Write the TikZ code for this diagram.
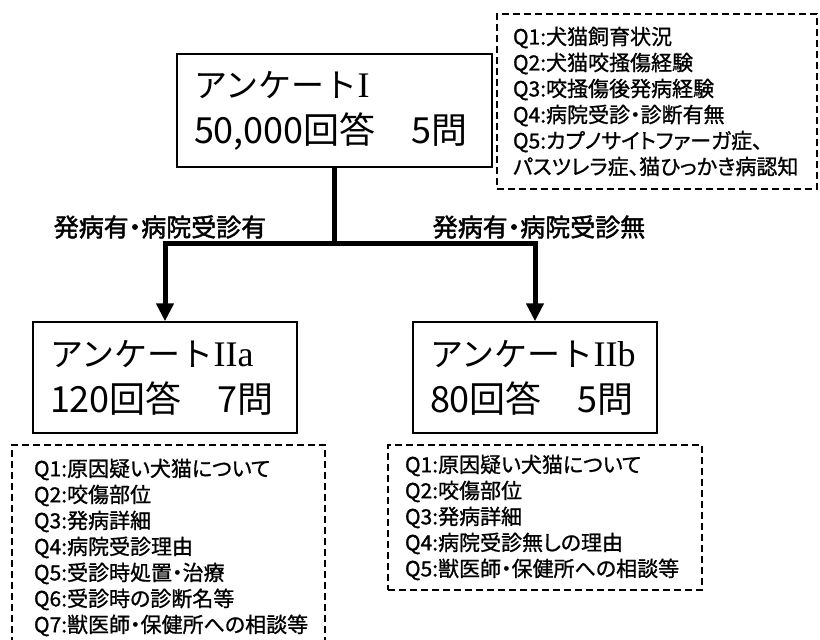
\documentclass[tikz,border=0pt]{standalone}
\usepackage{fontspec}
\setmainfont{Noto Sans CJK JP}
\newfontfamily\rom{Liberation Serif}
\newfontfamily\pfont[RawFeature=+palt,FakeBold=1.0]{Noto Sans CJK JP}
\newfontfamily\pbold[RawFeature=+palt,FakeBold=1.8]{Noto Sans CJK JP}
\usetikzlibrary{arrows.meta}
\newcommand{\bigline}{\fontsize{36}{46}\selectfont}
\newcommand{\romnum}[1]{{\rom\fontsize{36}{46}\selectfont #1}}
\begin{document}
\begin{tikzpicture}[x=1pt,y=-1pt,
  mainbox/.style={draw, line width=1.5pt, rectangle, align=left, inner xsep=17pt, inner ysep=0pt,
    font=\fontsize{33}{46}\selectfont},
  qbox/.style={draw, dash pattern=on 7pt off 4pt, line width=1.5pt, rectangle, align=left,
    inner ysep=0pt, font=\pfont\fontsize{21}{26}\selectfont},
  branch/.style={line width=5pt},
  brarrow/.style={line width=5pt, -{Triangle[length=18pt,width=17pt]}},
  lab/.style={font=\pbold\fontsize{25}{28}\selectfont, inner sep=0pt}
]
\useasboundingbox (0,0) rectangle (820,640);

% main boxes
\node[mainbox, text width=281pt, minimum height=113pt] (q1) at (334.5,110.5)
  {アンケート\romnum{I}\\{\bigline 50,000回答　5問}};
\node[mainbox, text width=230pt, minimum height=111pt] (q2a) at (165,377.5)
  {アンケート\romnum{IIa}\\{\bigline 120回答　7問}};
\node[mainbox, text width=210pt, minimum height=111pt] (q2b) at (535,377.5)
  {アンケート\romnum{IIb}\\{\bigline 80回答　5問}};

% question lists
\node[qbox, inner xsep=16pt, text width=288pt, minimum height=175pt] (n1) at (657,101.5)
  {Q1:犬猫飼育状況\\Q2:犬猫咬掻傷経験\\Q3:咬掻傷後発病経験\\Q4:病院受診・診断有無\\Q5:カプノサイトファーガ症、\\パスツレラ症、猫ひっかき病認知};
\node[qbox, inner xsep=22pt, text width=269pt, minimum height=205pt] (n2a) at (168.5,547.5)
  {Q1:原因疑い犬猫について\\Q2:咬傷部位\\Q3:発病詳細\\Q4:病院受診理由\\Q5:受診時処置・治療\\Q6:受診時の診断名等\\Q7:獣医師・保健所への相談等};
\node[qbox, inner xsep=17pt, text width=280pt, minimum height=145pt] (n2b) at (545,517.5)
  {Q1:原因疑い犬猫について\\Q2:咬傷部位\\Q3:発病詳細\\Q4:病院受診無しの理由\\Q5:獣医師・保健所への相談等};

% connectors
\coordinate (j) at (334.5,243);
\draw[branch] (q1.south) -- (j);
\draw[brarrow] (j) -| (q2a.north);
\draw[brarrow] (j) -| (q2b.north);

% branch labels
\node[lab] (l1) at (160,227) {発病有・病院受診有};
\node[lab] (l2) at (539,227) {発病有・病院受診無};
\end{tikzpicture}
\end{document}
